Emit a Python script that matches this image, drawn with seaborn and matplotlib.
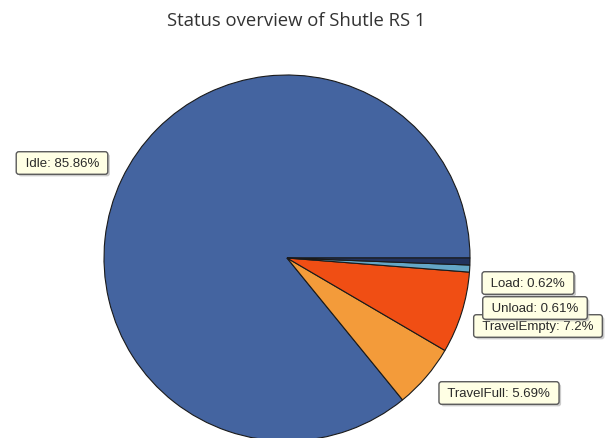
import matplotlib
matplotlib.use("Agg")
import matplotlib.pyplot as plt
import matplotlib.patheffects as pe
import seaborn as sns

# Shuttle status shares (percent), counterclockwise from 3 o'clock
states = ["Idle", "TravelFull", "TravelEmpty", "Load", "Unload"]
shares = [85.86, 5.69, 7.2, 0.62, 0.61]
colors = ["#4464A0", "#F39B3A", "#F04E14", "#64A6C6", "#22335E"]
title = "Status overview of Shutle RS 1"

# Callout box centres in pixel coordinates (x from left, y from top)
label_pos = {
    "Idle": (62, 164),
    "TravelFull": (499, 394),
    "TravelEmpty": (538, 327),
    "Load": (528, 284),
    "Unload": (535, 309),
}

sns.set_theme(style="white")
plt.rcParams["font.family"] = ["Liberation Sans", "DejaVu Sans"]

W, H = 606, 439
fig = plt.figure(figsize=(W / 100, H / 100), dpi=100)
fig.patch.set_facecolor("white")

cx, cy, r = 287, 259, 183
ax = fig.add_axes([(cx - r) / W, (H - cy - r) / H, 2 * r / W, 2 * r / H])
wedges, _ = ax.pie(
    shares,
    colors=colors,
    startangle=0,
    counterclock=True,
    radius=1.0,
    wedgeprops=dict(edgecolor="#1a1a1a", linewidth=0.8),
)
for w in wedges:
    w.set_clip_on(False)
ax.set_xlim(-1, 1)
ax.set_ylim(-1, 1)
ax.set_aspect("equal")
ax.axis("off")

fig.text(296 / W, 1 - 21 / H, title, ha="center", va="center",
         fontsize=13.3, color="#333333", family=["Open Sans", "DejaVu Sans"])

for name, val in zip(states, shares):
    px, py = label_pos[name]
    t = fig.text(px / W, 1 - py / H, f" {name}: {val:g}% ", ha="center", va="center",
                 fontsize=9.5, color="#2a2a2a",
                 bbox=dict(boxstyle="round,pad=0.4,rounding_size=0.2",
                           facecolor="#FFFFE4", edgecolor="#5a5a5a", linewidth=1.0))
    t.get_bbox_patch().set_path_effects(
        [pe.SimplePatchShadow(offset=(1.5, -1.5), shadow_rgbFace="#aaaaaa", alpha=0.6),
         pe.Normal()])

fig.savefig("out.png", dpi=100, facecolor="white")
